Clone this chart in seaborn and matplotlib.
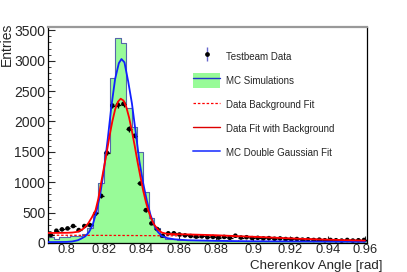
import numpy as np
import pandas as pd
import matplotlib
matplotlib.use('Agg')
import matplotlib.pyplot as plt
from matplotlib.ticker import MultipleLocator, FixedLocator
from matplotlib.lines import Line2D
from matplotlib.patches import Patch
from matplotlib.legend_handler import HandlerTuple
import seaborn as sns

# MC histogram: 57 bins of 0.003 from 0.79
mc_start = 0.79
mc_width = 0.003
mc_counts = [100, 70, 95, 95, 110, 120, 140, 240, 500, 990,
             1497, 2716, 3372, 3290, 2230, 1907, 1497, 841, 405, 246,
             100, 70, 58, 55, 52, 50, 48, 47, 45, 44,
             43, 42, 40, 40, 38, 38, 37, 36, 35, 35,
             34, 33, 33, 32, 31, 31, 30, 30, 29, 29,
             28, 28, 27, 27, 26, 26, 25]

# testbeam data, one point per bin centre
data_y = [131, 202, 224, 240, 279, 213, 279, 295, 487, 776,
          1487, 2262, 2273, 2290, 1875, 1765, 980, 541, 323, 230,
          120, 159, 160,
          140, 125, 115, 105, 110, 95, 100, 90, 100, 85,
          120, 90, 95, 80, 85, 75, 80, 70, 75, 65,
          60, 65, 55, 60, 50, 55, 45, 50, 45, 40,
          50, 40, 45, 50]

# fit curves
red_x = [0.790, 0.795, 0.800, 0.803, 0.806, 0.809, 0.8115, 0.8135, 0.8155, 0.817,
         0.8185, 0.820, 0.8215, 0.823, 0.8245, 0.826, 0.8275, 0.829, 0.8305, 0.832,
         0.8335, 0.835, 0.8365, 0.838, 0.8395, 0.841, 0.8425, 0.844, 0.8455, 0.847,
         0.849, 0.851, 0.854, 0.858, 0.864, 0.870, 0.880, 0.890, 0.900, 0.910,
         0.920, 0.930, 0.940, 0.950, 0.960]
red_y = [165, 166, 168, 172, 185, 235, 320, 420, 540, 730,
         990, 1240, 1490, 1760, 2000, 2198, 2324, 2375, 2344, 2237,
         2064, 1842, 1600, 1340, 1100, 870, 675, 515, 392, 300,
         220, 172, 150, 146, 142, 137, 128, 115, 103, 90,
         76, 64, 55, 47, 40]

bg_x = [0.790, 0.830, 0.860, 0.880, 0.900, 0.920, 0.940, 0.960]
bg_y = [128, 124, 118, 110, 98, 76, 55, 40]

blue_x = [0.790, 0.795, 0.800, 0.803, 0.806, 0.808, 0.810, 0.812, 0.814, 0.816,
          0.818, 0.820, 0.822, 0.824, 0.826, 0.828, 0.8294, 0.831, 0.833, 0.835,
          0.837, 0.839, 0.841, 0.843, 0.845, 0.847, 0.849, 0.851, 0.854, 0.858,
          0.865, 0.880, 0.900, 0.930, 0.960]
blue_y = [15, 16, 18, 25, 45, 75, 110, 180, 300, 520,
          800, 1200, 1700, 2250, 2700, 2960, 3028, 2973, 2660, 2300,
          1830, 1350, 990, 700, 460, 290, 180, 115, 80, 60,
          45, 35, 28, 24, 20]

xticks = [0.8, 0.82, 0.84, 0.86, 0.88, 0.9, 0.92, 0.94, 0.96]
xticklabels = ['0.8', '0.82', '0.84', '0.86', '0.88', '0.9', '0.92', '0.94', '0.96']
yticks = [0, 500, 1000, 1500, 2000, 2500, 3000, 3500]

legend_labels = ['Testbeam Data', 'MC Simulations', 'Data Background Fit',
                 'Data Fit with Background', 'MC Double Gaussian Fit']

mc_edges = [mc_start + mc_width * i for i in range(len(mc_counts) + 1)]
mc_df = pd.DataFrame({'angle': [mc_start + mc_width * (i + 0.5) for i in range(len(mc_counts))],
                      'count': mc_counts})
data_x = mc_start + mc_width * (np.arange(len(data_y)) + 0.5)

sns.set_style('ticks')
plt.rcParams['font.family'] = ['Liberation Sans', 'DejaVu Sans']

green = '#98fb98'
fig = plt.figure(figsize=(4.07, 2.72), dpi=100)
ax = fig.add_axes([48 / 407, 29 / 272, 319 / 407, 216 / 272])

sns.histplot(data=mc_df, x='angle', weights='count', bins=mc_edges, element='step',
             fill=True, alpha=1, facecolor=green, edgecolor='#5566aa',
             linewidth=0.8, ax=ax, zorder=1)

sns.lineplot(x=bg_x, y=bg_y, color='red', linewidth=0.9, linestyle=(0, (2, 1.5)),
             estimator=None, sort=False, ax=ax, zorder=2)
ax.errorbar(data_x, data_y, xerr=mc_width / 2, yerr=np.sqrt(data_y), fmt='none',
            ecolor='black', elinewidth=0.9, capsize=0, zorder=3)
sns.scatterplot(x=data_x, y=data_y, color='black', s=11, edgecolor='none', ax=ax, zorder=4)
sns.lineplot(x=blue_x, y=blue_y, color='#1020ff', linewidth=1.3, estimator=None,
             sort=False, ax=ax, zorder=5)
sns.lineplot(x=red_x, y=red_y, color='#ff0000', linewidth=1.3, estimator=None,
             sort=False, ax=ax, zorder=6)

ax.set_xlim(0.79, 0.9611)
ax.set_ylim(0, 3555)
ax.xaxis.set_major_locator(FixedLocator(xticks))
ax.set_xticklabels(xticklabels)
ax.xaxis.set_minor_locator(MultipleLocator(0.004))
ax.set_yticks(yticks)
ax.yaxis.set_minor_locator(MultipleLocator(100))
ax.tick_params(which='both', direction='in', top=False, right=False)
ax.tick_params(which='major', length=5, width=0.8)
ax.tick_params(which='minor', length=2.5, width=0.6)
ax.tick_params(axis='x', pad=1, labelsize=9.3)
ax.tick_params(axis='y', pad=2, labelsize=10)
for s in ['left', 'bottom', 'right']:
    ax.spines[s].set_color('black')
    ax.spines[s].set_linewidth(0.9)
ax.spines['top'].set_color('#999999')
ax.spines['top'].set_linewidth(1.6)

ax.set_xlabel('Cherenkov Angle [rad]', fontsize=9.6, ha='right', va='bottom')
ax.xaxis.set_label_coords((382 - 48) / 319, (243 - 272) / 216)
ax.set_ylabel('Entries', fontsize=10, ha='right', va='center')
ax.yaxis.set_label_coords((7 - 48) / 319, (243 - 23) / 216)

h_data = (Line2D([], [], color='#6666cc', marker='|', markersize=10, mew=1, linestyle='none'),
          Line2D([], [], color='black', marker='o', markersize=2.4, linestyle='none'))
h_mc = (Patch(facecolor=green, edgecolor='none'), Line2D([], [], color='#2233cc', lw=1))
h_bg = Line2D([], [], color='red', lw=0.9, ls=(0, (2, 1.5)))
h_fit = Line2D([], [], color='#dd0000', lw=1)
h_blue = Line2D([], [], color='#4455ff', lw=1.4)
ax.legend([h_data, h_mc, h_bg, h_fit, h_blue], legend_labels,
          handler_map={tuple: HandlerTuple(ndivide=1)},
          loc='upper left', bbox_to_anchor=(193 / 407, 1 - 49 / 272),
          bbox_transform=fig.transFigure, frameon=False, fontsize=7,
          handlelength=2.8, handleheight=2, labelspacing=0.94,
          handletextpad=0.55, borderpad=0, borderaxespad=0)

fig.savefig('out.png', dpi=100)
